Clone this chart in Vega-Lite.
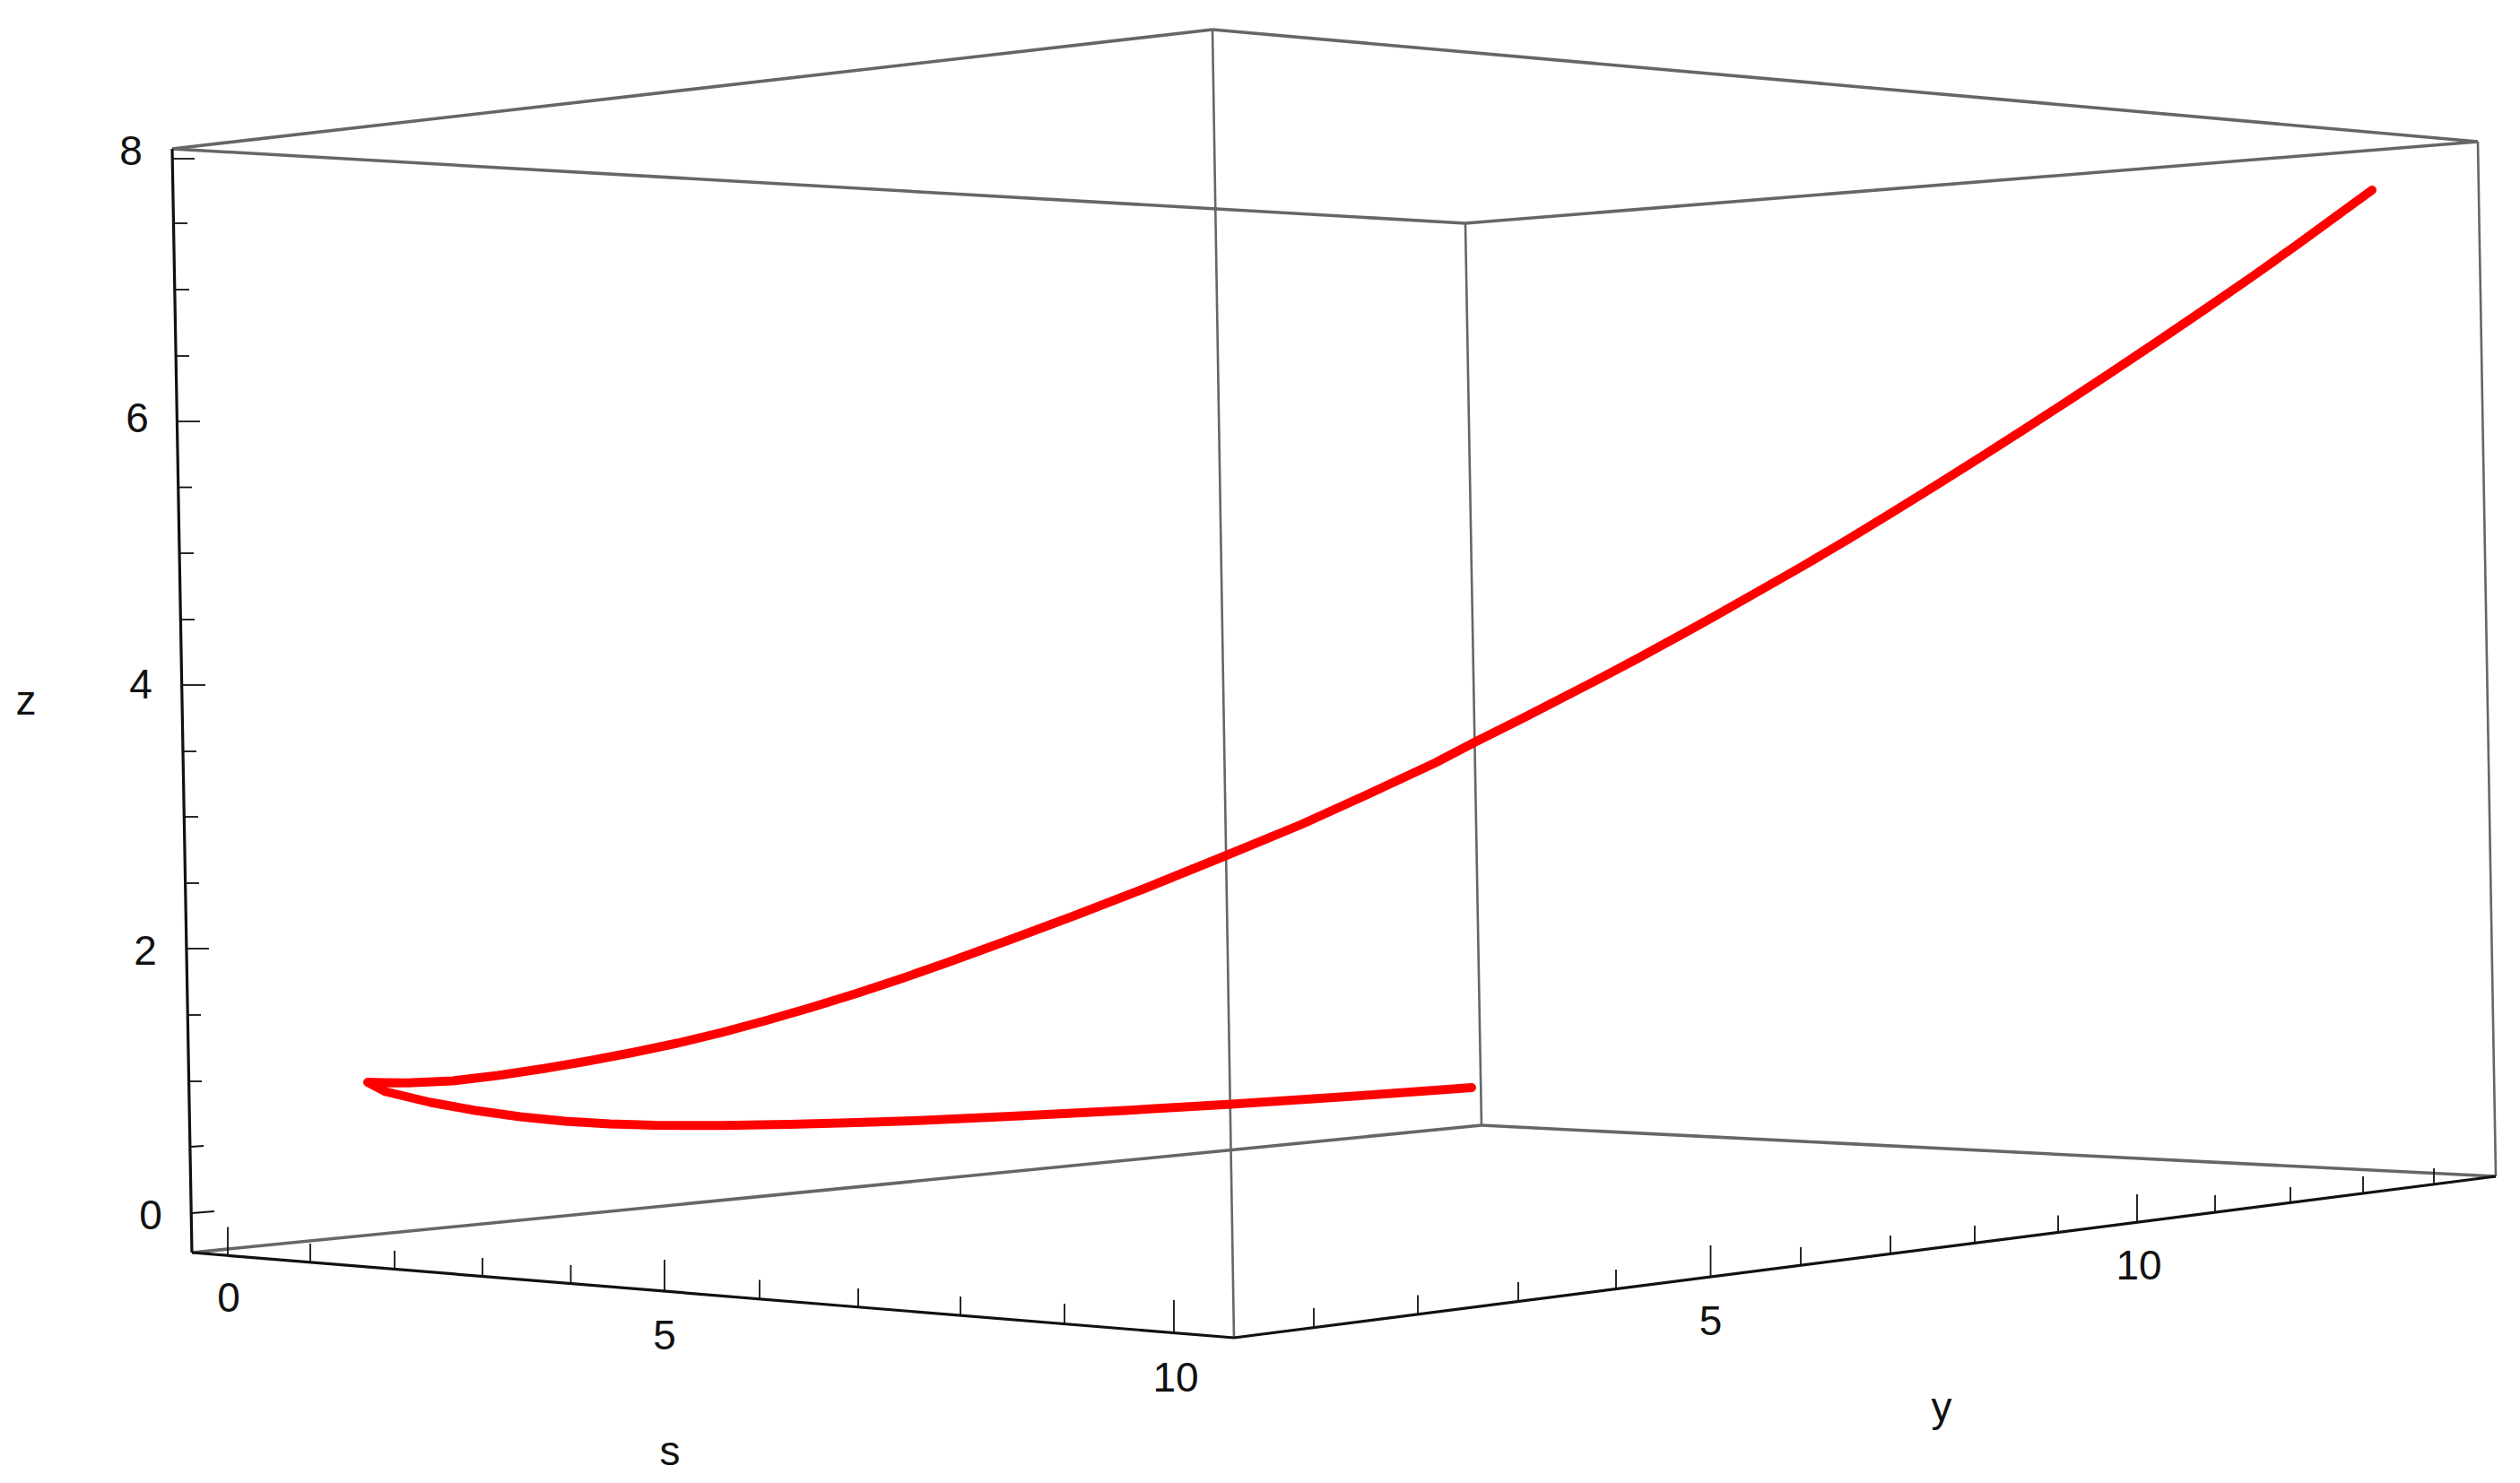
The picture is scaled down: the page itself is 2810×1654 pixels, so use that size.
{"$schema":"https://vega.github.io/schema/vega-lite/v6.json","width":2810,"height":1654,"autosize":{"type":"fit","contains":"padding"},"padding":0,"background":"#ffffff","config":{"view":{"stroke":null}},
"datasets":{
"grayEdges":[{"h":192,"v":166,"h2":1352,"v2":33},{"h":1352,"v":33,"h2":2763,"v2":158},{"h":192,"v":166,"h2":1634,"v2":249},{"h":1634,"v":249,"h2":2763,"v2":158},{"h":214,"v":1397,"h2":1652,"v2":1255},{"h":1652,"v":1255,"h2":2783,"v2":1312}],
"grayVerticals":[{"h":1352,"v":33,"h2":1376,"v2":1492},{"h":1634,"v":249,"h2":1652,"v2":1255},{"h":2763,"v":158,"h2":2783,"v2":1312}],
"blackEdges":[{"h":192,"v":166,"h2":214,"v2":1397},{"h":214,"v":1397,"h2":1376,"v2":1492},{"h":1376,"v":1492,"h2":2783,"v2":1312}],
"ticks":[
{"h":193,"v":177,"h2":217,"v2":177},{"h":193.5,"v":249,"h2":209,"v2":249},{"h":195,"v":323,"h2":211,"v2":323},{"h":196,"v":397,"h2":211,"v2":397},{"h":197,"v":470,"h2":223,"v2":470},{"h":199,"v":543.5,"h2":214,"v2":543.5},{"h":200,"v":617,"h2":216,"v2":617},{"h":201,"v":691,"h2":217,"v2":691},{"h":203,"v":764,"h2":229,"v2":764},{"h":204,"v":838,"h2":219,"v2":838},{"h":206,"v":911,"h2":221,"v2":911},{"h":207,"v":985,"h2":222,"v2":985},{"h":209,"v":1058,"h2":233,"v2":1058},{"h":210,"v":1132,"h2":224,"v2":1132},{"h":211,"v":1206,"h2":225,"v2":1206},{"h":213,"v":1279,"h2":227,"v2":1278},{"h":214,"v":1353,"h2":239,"v2":1351},
{"h":254,"v":1400,"h2":254,"v2":1368.5},{"h":346,"v":1407,"h2":346,"v2":1387},{"h":440,"v":1415,"h2":440,"v2":1395},{"h":538,"v":1423,"h2":538,"v2":1403},{"h":636.5,"v":1431,"h2":636.5,"v2":1411},{"h":741,"v":1441,"h2":741,"v2":1405},{"h":847,"v":1449,"h2":847,"v2":1427.5},{"h":957,"v":1459,"h2":957,"v2":1437},{"h":1071,"v":1467.5,"h2":1071,"v2":1446},{"h":1187,"v":1477,"h2":1187,"v2":1454},{"h":1309,"v":1487,"h2":1309,"v2":1450},
{"h":1465,"v":1481,"h2":1465,"v2":1459},{"h":1581,"v":1466,"h2":1581,"v2":1444.5},{"h":1693,"v":1451.5,"h2":1693,"v2":1430},{"h":1802,"v":1437.5,"h2":1802,"v2":1416},{"h":1907.5,"v":1423,"h2":1907.5,"v2":1389},{"h":2008,"v":1411,"h2":2008,"v2":1391},{"h":2108,"v":1399,"h2":2108,"v2":1378},{"h":2202,"v":1386,"h2":2202,"v2":1367},{"h":2295,"v":1374.5,"h2":2295,"v2":1355.5},{"h":2383,"v":1362.5,"h2":2383,"v2":1332},{"h":2470,"v":1351.5,"h2":2470,"v2":1333},{"h":2554,"v":1341,"h2":2554,"v2":1324},{"h":2635,"v":1330,"h2":2635,"v2":1312},{"h":2714,"v":1320,"h2":2714,"v2":1303}],
"labels":[{"h":146,"v":184,"t":"8"},{"h":153,"v":482,"t":"6"},{"h":157,"v":778.6,"t":"4"},{"h":162,"v":1076,"t":"2"},{"h":168,"v":1370.5,"t":"0"},{"h":29,"v":797,"t":"z"},{"h":255,"v":1463,"t":"0"},{"h":741,"v":1505,"t":"5"},{"h":1311,"v":1552,"t":"10"},{"h":747,"v":1634,"t":"s"},{"h":1907.5,"v":1489,"t":"5"},{"h":2385,"v":1427,"t":"10"},{"h":2165,"v":1585,"t":"y"}],
"curve":[{"i":0,"h":1641,"v":1213},{"i":1,"h":1510,"v":1222.5},{"i":2,"h":1373,"v":1231.5},{"i":3,"h":1255,"v":1238.5},{"i":4,"h":1127.5,"v":1245},{"i":5,"h":1030,"v":1249.5},{"i":6,"h":955,"v":1252},{"i":7,"h":880,"v":1254},{"i":8,"h":805,"v":1255.3},{"i":9,"h":730,"v":1255},{"i":10,"h":680,"v":1253.5},{"i":11,"h":630,"v":1250.5},{"i":12,"h":580,"v":1245.5},{"i":13,"h":530,"v":1238.5},{"i":14,"h":480,"v":1229.5},{"i":15,"h":430,"v":1217.5},{"i":16,"h":410,"v":1207},{"i":17,"h":430,"v":1207.5},{"i":18,"h":455,"v":1207.7},{"i":19,"h":505,"v":1205.5},{"i":20,"h":555,"v":1199.5},{"i":21,"h":605,"v":1192},{"i":22,"h":655,"v":1183.5},{"i":23,"h":705,"v":1174},{"i":24,"h":755,"v":1163.5},{"i":25,"h":805,"v":1151.5},{"i":26,"h":855,"v":1138},{"i":27,"h":905,"v":1123.5},{"i":28,"h":955,"v":1108},{"i":29,"h":1005,"v":1091.5},{"i":30,"h":1055,"v":1074},{"i":31,"h":1125,"v":1048.5},{"i":32,"h":1200,"v":1020.5},{"i":33,"h":1275,"v":991.5},{"i":34,"h":1367.5,"v":954},{"i":35,"h":1450,"v":920},{"i":36,"h":1525,"v":886},{"i":37,"h":1600,"v":851},{"i":38,"h":1645,"v":827.5},{"i":39,"h":1700,"v":800},{"i":40,"h":1775,"v":761.4},{"i":41,"h":1825,"v":735},{"i":42,"h":1880,"v":705},{"i":43,"h":1910,"v":688.4},{"i":44,"h":1960,"v":660},{"i":45,"h":2010,"v":631.5},{"i":46,"h":2060,"v":602},{"i":47,"h":2110,"v":571.5},{"i":48,"h":2160,"v":540.5},{"i":49,"h":2210,"v":509},{"i":50,"h":2260,"v":477},{"i":51,"h":2310,"v":444.5},{"i":52,"h":2360,"v":411.5},{"i":53,"h":2410,"v":378},{"i":54,"h":2460,"v":344},{"i":55,"h":2510,"v":309.5},{"i":56,"h":2560,"v":274},{"i":57,"h":2610,"v":237.5},{"i":58,"h":2645,"v":212}]},
"encoding":{"x":{"field":"h","type":"quantitative","scale":{"domain":[0,2810],"nice":false,"zero":false},"axis":null},"y":{"field":"v","type":"quantitative","scale":{"domain":[1654,0],"nice":false,"zero":false},"axis":null}},
"layer":[
{"data":{"name":"grayEdges"},"mark":{"type":"rule","color":"#666666","strokeWidth":3.6},"encoding":{"x2":{"field":"h2"},"y2":{"field":"v2"}}},
{"data":{"name":"grayVerticals"},"mark":{"type":"rule","color":"#666666","strokeWidth":2.6},"encoding":{"x2":{"field":"h2"},"y2":{"field":"v2"}}},
{"data":{"name":"blackEdges"},"mark":{"type":"rule","color":"#111111","strokeWidth":3.2},"encoding":{"x2":{"field":"h2"},"y2":{"field":"v2"}}},
{"data":{"name":"ticks"},"mark":{"type":"rule","color":"#111111","strokeWidth":1.8},"encoding":{"x2":{"field":"h2"},"y2":{"field":"v2"}}},
{"data":{"name":"curve"},"mark":{"type":"line","color":"#ff0000","strokeWidth":10,"strokeJoin":"round","strokeCap":"round","clip":false},"encoding":{"order":{"field":"i","type":"quantitative"}}},
{"data":{"name":"labels"},"mark":{"type":"text","font":"Liberation Sans","fontSize":46,"fontWeight":"normal","color":"#111111","align":"center","baseline":"alphabetic"},"encoding":{"text":{"field":"t","type":"nominal"}}}
]}
